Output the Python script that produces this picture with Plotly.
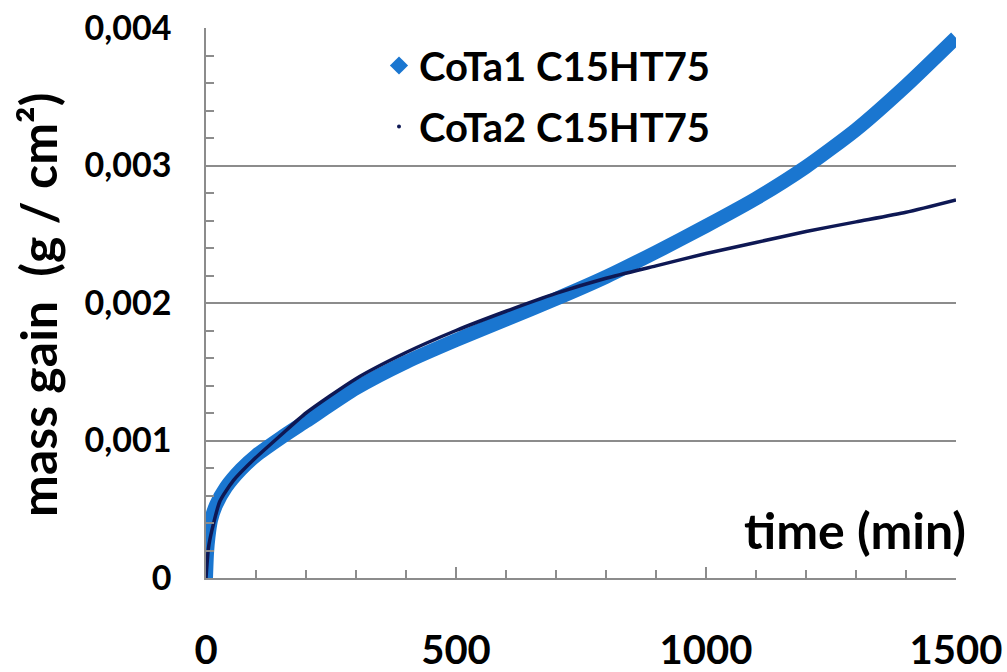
import plotly.graph_objects as go

# ---- data ----
time_cota1 = [0, 2, 5, 10, 20, 40, 70, 100, 150, 200, 300, 400, 500, 600, 700,
              800, 900, 1000, 1100, 1200, 1300, 1400, 1500]
mass_cota1 = [0, 0.00018, 0.00030, 0.00042, 0.00053, 0.00066, 0.00079, 0.00089,
              0.00102, 0.00114, 0.00138, 0.00157, 0.00173, 0.00188, 0.00203,
              0.00219, 0.00237, 0.00256, 0.00276, 0.00299, 0.00326, 0.00358, 0.00393]

time_cota2 = [0, 5, 12, 28, 55, 95, 150, 200, 300, 400, 500, 600, 700,
              800, 900, 1000, 1100, 1200, 1300, 1400, 1500]
mass_cota2 = [0, 0.00022, 0.00035, 0.00056, 0.00071, 0.00086, 0.00104, 0.00120,
              0.00145, 0.00164, 0.00180, 0.00194, 0.00207, 0.00218, 0.00227,
              0.00236, 0.00244, 0.00252, 0.00259, 0.00266, 0.00275]

names = ["CoTa1 C15HT75", "CoTa2 C15HT75"]
y_tickvals = [0, 0.001, 0.002, 0.003, 0.004]
y_ticktext = ["0", "0,001", "0,002", "0,003", "0,004"]
x_tickvals = [0, 500, 1000, 1500]
x_ticktext = ["0", "500", "1000", "1500"]

BLUE = "rgb(26,118,208)"
NAVY = "rgb(14,24,84)"
GRID = "rgb(140,140,140)"
FONT = "Lato"

fig = go.Figure()
fig.add_trace(go.Scatter(x=time_cota1, y=mass_cota1, mode="lines",
                         line=dict(color=BLUE, width=14, shape="spline", smoothing=0.6),
                         showlegend=False, cliponaxis=False))
fig.add_trace(go.Scatter(x=time_cota2, y=mass_cota2, mode="lines",
                         line=dict(color=NAVY, width=3.5, shape="spline", smoothing=0.6),
                         showlegend=False, cliponaxis=False))
# legend entries (marker-style symbols as in the reference)
fig.add_trace(go.Scatter(x=[None], y=[None], mode="markers", name=names[0],
                         legendgroup="a",
                         marker=dict(symbol="diamond", size=14, color=BLUE)))
fig.add_trace(go.Scatter(x=[None], y=[None], mode="markers", name=names[1],
                         legendgroup="b",
                         marker=dict(symbol="circle", size=4, color=NAVY)))

L, R, T, B = 206, 51, 28, 94
W, H = 1007, 672
pw, ph = W - L - R, H - T - B

fig.update_layout(
    width=W, height=H,
    margin=dict(l=L, r=R, t=T, b=B, pad=0, autoexpand=False),
    paper_bgcolor="white", plot_bgcolor="white",
    font=dict(family=FONT, color="black"),
    showlegend=True,
    legend=dict(x=(379 - L) / pw, y=(ph - 5) / ph, xanchor="left", yanchor="top",
                traceorder="grouped", tracegroupgap=6,
                font=dict(family=FONT, size=40, weight="bold", color="black"),
                bgcolor="rgba(0,0,0,0)", borderwidth=0),
    xaxis=dict(range=[0, 1500], showgrid=False, zeroline=False, automargin=False,
               showline=True, linecolor=GRID, linewidth=1.5,
               tickvals=x_tickvals, ticktext=x_ticktext,
               ticks="inside", ticklen=11, tickcolor=GRID, tickwidth=1.5,
               minor=dict(dtick=100, ticks="inside", ticklen=8, tickcolor=GRID, tickwidth=1.5),
               tickfont=dict(family=FONT, size=40, weight="bold", color="black"),
               ticklabelstandoff=36),
    yaxis=dict(range=[0, 0.004], showgrid=True, gridcolor=GRID, gridwidth=1.5,
               zeroline=False, showline=True, linecolor=GRID, linewidth=1.5,
               automargin=False,
               tickvals=y_tickvals, ticktext=y_ticktext,
               ticks="inside", ticklen=8, tickcolor=GRID, tickwidth=1.5,
               minor=dict(dtick=0.0002, tick0=0, ticks="inside", ticklen=8,
                          tickcolor=GRID, tickwidth=1.5, showgrid=False),
               tickfont=dict(family=FONT, size=34, weight="bold", color="black"),
               ticklabelstandoff=26),
    annotations=[
        dict(text="time (min)", xref="paper", yref="paper",
             x=(968 - L) / pw, y=(578 - 530) / ph,
             xanchor="right", yanchor="middle", showarrow=False,
             font=dict(family=FONT, size=50, weight="bold", color="black")),
        dict(text="mass gain\u00a0 (g / cm²)", xref="paper", yref="paper",
             x=(38 - L) / pw, y=(578 - 305) / ph, xanchor="center", yanchor="middle",
             textangle=-90, showarrow=False,
             font=dict(family=FONT, size=50, weight="bold", color="black")),
    ],
)

fig.write_html("out.html")
